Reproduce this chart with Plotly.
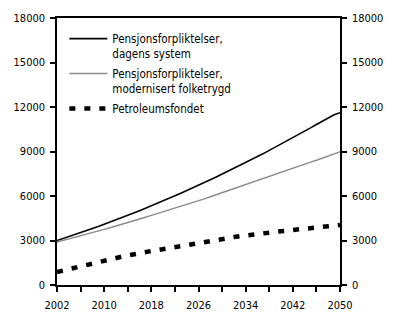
import plotly.graph_objects as go

years = list(range(2002, 2051))

dagens = [3000, 3130, 3260, 3390, 3530, 3670, 3810, 3950, 4100, 4240,
          4390, 4540, 4700, 4850, 5010, 5170, 5340, 5500, 5670, 5840,
          6010, 6190, 6360, 6540, 6720, 6910, 7090, 7280, 7470, 7660,
          7860, 8050, 8250, 8460, 8660, 8860, 9070, 9280, 9500, 9710,
          9930, 10150, 10370, 10590, 10820, 11050, 11280, 11480, 11620]

modernisert = [2900, 3000, 3100, 3200, 3310, 3420, 3530, 3640, 3750, 3860,
               3970, 4090, 4210, 4330, 4450, 4570, 4690, 4810, 4930, 5050,
               5170, 5290, 5420, 5550, 5680, 5810, 5950, 6090, 6230, 6370,
               6510, 6650, 6790, 6930, 7070, 7210, 7350, 7490, 7630, 7760,
               7890, 8020, 8150, 8280, 8410, 8550, 8690, 8830, 8980]

petroleum = [880, 980, 1080, 1180, 1270, 1360, 1450, 1560, 1670, 1780,
             1850, 1910, 1990, 2080, 2160, 2230, 2290, 2350, 2420, 2490,
             2560, 2630, 2710, 2790, 2860, 2940, 3020, 3080, 3120, 3160,
             3230, 3290, 3350, 3420, 3480, 3510, 3530, 3580, 3630, 3680,
             3720, 3770, 3810, 3840, 3870, 3910, 3960, 4000, 4050]

names = ["Pensjonsforpliktelser,<br>dagens system",
         "Pensjonsforpliktelser,<br>modernisert folketrygd",
         "Petroleumsfondet"]

y_ticks = [0, 3000, 6000, 9000, 12000, 15000, 18000]
y_labels = ["0", "3000", "6000", "9000", "12000", "15000", "18000"]
x_ticks = [2002, 2010, 2018, 2026, 2034, 2042, 2050]
x_labels = ["2002", "2010", "2018", "2026", "2034", "2042", "2050"]

FONT = "DejaVu Sans Condensed, Liberation Sans Narrow, Arial Narrow, sans-serif"

fig = go.Figure()
fig.add_trace(go.Scatter(x=years, y=dagens, mode="lines", name=names[0],
                         legendgroup="a",
                         line=dict(color="black", width=1.6)))
fig.add_trace(go.Scatter(x=years, y=modernisert, mode="lines", name=names[1],
                         legendgroup="b",
                         line=dict(color="#8a8a8a", width=1.4)))
fig.add_trace(go.Scatter(x=years, y=petroleum, mode="lines", name=names[2],
                         legendgroup="c",
                         line=dict(color="black", width=4.5, dash="6px,9px")))
# invisible trace for right axis
fig.add_trace(go.Scatter(x=years, y=dagens, yaxis="y2", mode="lines",
                         line=dict(width=0), showlegend=False, hoverinfo="skip",
                         opacity=0))

axis_common = dict(ticks="outside", ticklen=5, tickwidth=1.5, showline=True,
                   linewidth=1.5, linecolor="black", tickcolor="black",
                   showgrid=False, zeroline=False)

fig.update_layout(
    width=400, height=324,
    margin=dict(l=57, r=60, t=16, b=39),
    paper_bgcolor="white", plot_bgcolor="white",
    font=dict(family=FONT, size=11, color="black"),
    showlegend=True,
    legend=dict(x=0.026, y=0.975, xanchor="left", yanchor="top",
                bgcolor="rgba(0,0,0,0)", valign="top",
                font=dict(size=11.5), tracegroupgap=2, itemwidth=38),
    xaxis=dict(range=[2002, 2050], tickvals=x_ticks, ticktext=x_labels,
               mirror=True, ticklabelstandoff=4,
               minor=dict(tick0=2002, dtick=4, ticks="outside", ticklen=5,
                          tickwidth=1.5, tickcolor="black"),
               **axis_common),
    yaxis=dict(range=[0, 18000], tickvals=y_ticks, ticktext=y_labels,
               ticklabelstandoff=3, **axis_common),
    yaxis2=dict(range=[0, 18000], tickvals=y_ticks, ticktext=y_labels,
                overlaying="y", side="right", ticklabelstandoff=3,
                **axis_common),
)

fig.write_html("out.html")
